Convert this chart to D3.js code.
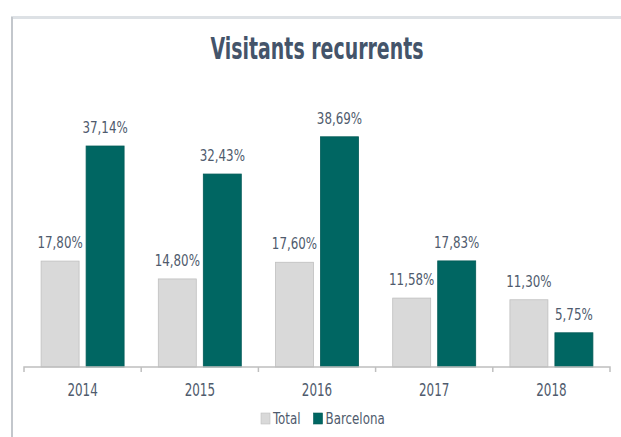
<!DOCTYPE html>
<html>
<head>
<meta charset="utf-8">
<script src="https://cdn.jsdelivr.net/npm/d3@7"></script>
<style>
  html, body { margin: 0; padding: 0; background: #ffffff; }
  svg { display: block; }
  text { font-family: "Liberation Sans Narrow", "DejaVu Sans Condensed", "Roboto Condensed", sans-serif; }
</style>
</head>
<body>
<svg id="chart" width="621" height="437"></svg>
<script>
// Share of returning visitors by year
const years = ["2014", "2015", "2016", "2017", "2018"];
const seriesNames = ["Total", "Barcelona"];
const totalValues = [17.80, 14.80, 17.60, 11.58, 11.30];
const barcelonaValues = [37.14, 32.43, 38.69, 17.83, 5.75];
const chartTitle = "Visitants recurrents";

const colors = { Total: "#d9d9d9", Barcelona: "#006662" };
const strokes = { Total: "#bfbfbf", Barcelona: "#005a56" };
const textColor = "#4f5b6d";

// Narrow the rendered glyphs so the labels keep a compact, condensed look
function condense(sel, factor) {
  sel.each(function () {
    const len = this.getComputedTextLength();
    d3.select(this).attr("textLength", len * factor).attr("lengthAdjust", "spacingAndGlyphs");
  });
}

const rows = years.map((y, i) => ({
  year: y,
  values: [
    { key: "Total", value: totalValues[i] },
    { key: "Barcelona", value: barcelonaValues[i] }
  ]
}));

const svg = d3.select("#chart");
const W = 621, H = 437;

// Frame: light top edge and a left rule
svg.append("rect").attr("x", 11).attr("y", 16).attr("width", W - 11).attr("height", 3).attr("fill", "#dde1e5");
svg.append("rect").attr("x", 11).attr("y", 17).attr("width", 2).attr("height", H - 17).attr("fill", "#c3c7cc");

// Title
svg.append("text")
  .attr("x", 317).attr("y", 59)
  .attr("text-anchor", "middle")
  .attr("font-size", 30).attr("font-weight", "bold")
  .attr("fill", "#44546a")
  .attr("textLength", 213).attr("lengthAdjust", "spacingAndGlyphs")
  .text(chartTitle);

const x0 = d3.scaleBand().domain(years).range([24, 610]).padding(0);
const x1 = d3.scaleBand().domain(seriesNames).range([0, x0.bandwidth()])
  .paddingInner(0.156).paddingOuter(0.38);
const y = d3.scaleLinear().domain([0, 40]).range([367, 129]);

const fmt = v => d3.format(".2f")(v).replace(".", ",") + "%";

const groups = svg.append("g").selectAll("g")
  .data(rows).join("g")
  .attr("transform", d => `translate(${x0(d.year)},0)`);

groups.selectAll("rect")
  .data(d => d.values).join("rect")
  .attr("x", d => x1(d.key))
  .attr("y", d => y(d.value))
  .attr("width", x1.bandwidth())
  .attr("height", d => y(0) - y(d.value))
  .attr("fill", d => colors[d.key])
  .attr("stroke", d => strokes[d.key])
  .attr("stroke-width", 0.8);

groups.selectAll("text.val")
  .data(d => d.values).join("text")
  .attr("class", "val")
  .attr("x", d => x1(d.key) + x1.bandwidth() / 2)
  .attr("y", d => y(d.value) - 13)
  .attr("text-anchor", "middle")
  .attr("font-size", 16.5)
  .attr("fill", textColor)
  .text(d => fmt(d.value))
  .call(condense, 0.8);

// Category axis
const axis = svg.append("g")
  .attr("transform", `translate(0,${y(0)})`)
  .call(d3.axisBottom(x0).tickSize(0).tickPadding(17));
axis.select(".domain").attr("stroke", "#bfbfbf").attr("stroke-width", 1.5)
  .attr("d", "M24,5V0H610V5");
axis.selectAll(".tick text").attr("font-size", 17).attr("fill", textColor)
  .attr("font-family", "\"Liberation Sans Narrow\", \"DejaVu Sans Condensed\", sans-serif")
  .call(condense, 0.78);
// Boundary ticks between categories
axis.selectAll("line.sep")
  .data(years.slice(1)).join("line")
  .attr("class", "sep")
  .attr("x1", d => x0(d)).attr("x2", d => x0(d))
  .attr("y1", 0).attr("y2", 5)
  .attr("stroke", "#bfbfbf").attr("stroke-width", 1.5);

// Legend
const legend = svg.append("g").attr("transform", "translate(261,412)");
let lx = 0;
seriesNames.forEach(name => {
  const g = legend.append("g").attr("transform", `translate(${lx},0)`);
  g.append("rect").attr("x", 0).attr("y", 1).attr("width", 9).attr("height", 11)
    .attr("fill", colors[name]).attr("stroke", strokes[name]).attr("stroke-width", 0.6);
  const t = g.append("text").attr("x", 12).attr("y", 12)
    .attr("font-size", 16.5).attr("fill", textColor).text(name);
  const w = t.node().getComputedTextLength() * 0.8;
  t.attr("textLength", w).attr("lengthAdjust", "spacingAndGlyphs");
  lx += 12 + w + 13;
});
</script>
</body>
</html>
